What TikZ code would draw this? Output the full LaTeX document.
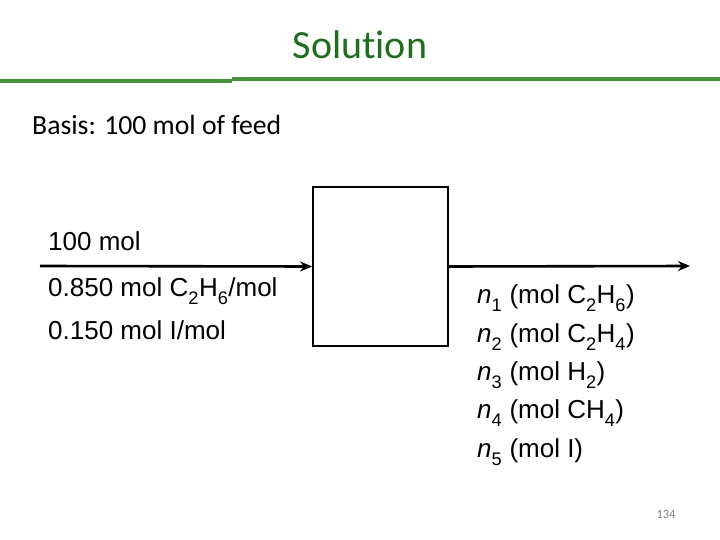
\documentclass[tikz,border=0pt]{standalone}
\usepackage{fontspec}
\setmainfont{Carlito}[Ligatures=NoCommon]
\newfontfamily\diagfont{Liberation Sans}
\definecolor{titlegreen}{RGB}{30,110,30}
\definecolor{rulegreen}{RGB}{72,145,60}
\usetikzlibrary{arrows.meta}
\newcommand{\sbs}[1]{\raisebox{-0.3ex}{\textsubscript{#1}}}
\tikzset{
  flow/.style={line width=2.6pt,-{Stealth[length=12pt,width=10pt]}},
  lbl/.style={anchor=west,inner sep=0pt,font=\diagfont\fontsize{26}{30}\selectfont},
  unitbox/.style={draw,line width=1.8pt,inner sep=0pt}
}
\begin{document}
\begin{tikzpicture}[x=1pt,y=-1pt]
\useasboundingbox (0,0) rectangle (720,540);
\node[font=\fontsize{40}{46}\selectfont,text=titlegreen] (title) at (360,45) {Solution};
\draw[rulegreen,line width=4pt] (0,81) -- (232,81);
\draw[rulegreen,line width=4pt] (232,79) -- (720,79);
\node[anchor=west,inner sep=0pt,font=\fontsize{27.7}{32}\selectfont] (basis) at (32,125) {Basis: 100 mol of feed};
\node[unitbox,minimum width=135pt,minimum height=159pt] (box) at (380.5,266.5) {};
\coordinate (in) at (40,266);
\coordinate (out) at (690,266);
\draw[flow] (in) -- (box.west);
\draw[flow] (box.east) -- (out);
\node[lbl] (f1) at (48,241) {100 mol};
\node[lbl] (f2) at (48,291) {0.850 mol C\sbs{2}H\sbs{6}/mol};
\node[lbl] (f3) at (48,330) {0.150 mol I/mol};
\node[lbl] (p1) at (477,298) {\textit{n}\sbs{1} (mol C\sbs{2}H\sbs{6})};
\node[lbl] (p2) at (477,337) {\textit{n}\sbs{2} (mol C\sbs{2}H\sbs{4})};
\node[lbl] (p3) at (477,375) {\textit{n}\sbs{3} (mol H\sbs{2})};
\node[lbl] (p4) at (477,413) {\textit{n}\sbs{4} (mol CH\sbs{4})};
\node[lbl] (p5) at (477,452) {\textit{n}\sbs{5} (mol I)};
\node[font=\fontsize{12.5}{14}\selectfont,text=gray] (page) at (666,514) {134};
\end{tikzpicture}
\end{document}
